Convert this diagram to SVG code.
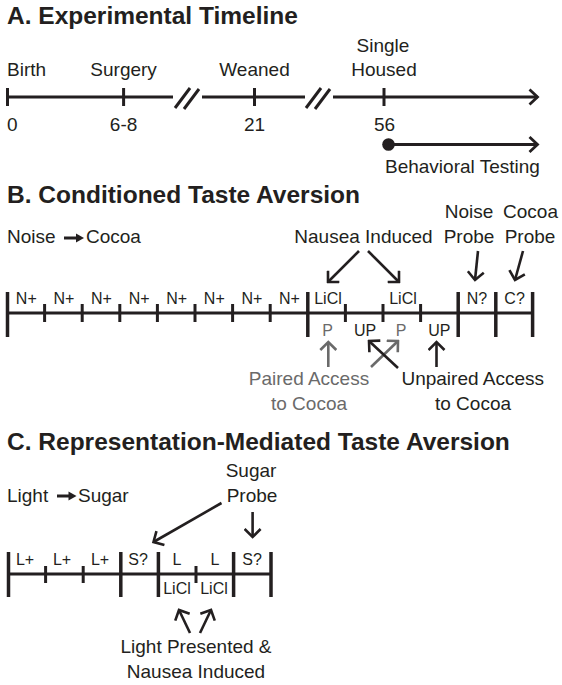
<svg xmlns="http://www.w3.org/2000/svg" width="562" height="685" viewBox="0 0 562 685">
<style>
text{font-family:"Liberation Sans",Arial,sans-serif;fill:#231f20}
.t{font-size:24.5px;font-weight:bold}
.l{font-size:19px}
.c{font-size:16px}
.m{text-anchor:middle}
.g{fill:#6a6a6a}
.ln{stroke:#231f20;stroke-width:3;fill:none}
.tk{stroke:#231f20;stroke-width:3;fill:none}
.bt{stroke:#231f20;stroke-width:3.5;fill:none}
.ar{stroke:#231f20;stroke-width:2.6;fill:none;marker-end:url(#chev)}
.ag{stroke:#6a6a6a;stroke-width:2.6;fill:none;marker-end:url(#chevg)}
.tl{stroke:#231f20;stroke-width:3;fill:none;marker-end:url(#chevt)}
</style>
<defs>
<marker id="chev" viewBox="0 0 12 18" refX="10" refY="9" markerWidth="12" markerHeight="18" markerUnits="userSpaceOnUse" orient="auto"><path d="M2,1 L10,9 L2,17" fill="none" stroke="#231f20" stroke-width="2.6"/></marker>
<marker id="chevg" viewBox="0 0 12 18" refX="10" refY="9" markerWidth="12" markerHeight="18" markerUnits="userSpaceOnUse" orient="auto"><path d="M2,1 L10,9 L2,17" fill="none" stroke="#6a6a6a" stroke-width="2.6"/></marker>
<marker id="chevt" viewBox="0 0 12 18" refX="10" refY="9" markerWidth="12" markerHeight="18" markerUnits="userSpaceOnUse" orient="auto"><path d="M2,1.5 L10,9 L2,16.5" fill="none" stroke="#231f20" stroke-width="2.8"/></marker>
</defs>
<rect width="562" height="685" fill="#fff"/>

<!-- Section A -->
<g id="section-a">
<text class="t" x="7" y="23.5">A. Experimental Timeline</text>
<g id="a-timeline">
<line class="ln" x1="7" y1="97" x2="173" y2="97"/>
<line class="ln" x1="202" y1="97" x2="305" y2="97"/>
<line class="tl" x1="333" y1="97" x2="537.5" y2="97"/>
<line class="ln" x1="175" y1="108" x2="190" y2="88"/>
<line class="ln" x1="184" y1="109" x2="199" y2="89"/>
<line class="ln" x1="306" y1="108" x2="321" y2="88"/>
<line class="ln" x1="315" y1="109" x2="330" y2="89"/>
</g>
<g id="a-birth"><line class="tk" x1="7.5" y1="88" x2="7.5" y2="106"/><text class="l" x="7" y="76">Birth</text><text class="l" x="7" y="131">0</text></g>
<g id="a-surgery"><line class="tk" x1="123.6" y1="88" x2="123.6" y2="106"/><text class="l m" x="123.6" y="76">Surgery</text><text class="l m" x="123.6" y="131">6-8</text></g>
<g id="a-weaned"><line class="tk" x1="254.5" y1="88" x2="254.5" y2="106"/><text class="l m" x="254.5" y="76">Weaned</text><text class="l m" x="254.5" y="131">21</text></g>
<g id="a-housed"><line class="tk" x1="384" y1="88" x2="384" y2="106"/><text class="l m" x="383" y="52">Single</text><text class="l m" x="384" y="76">Housed</text><text class="l m" x="384.5" y="131">56</text></g>
<g id="a-testing"><circle cx="388.5" cy="144.5" r="6.3" fill="#231f20"/><line class="tl" x1="388.5" y1="144.5" x2="537.5" y2="144.5"/><text class="l" x="385" y="173">Behavioral Testing</text></g>
</g>

<!-- Section B -->
<g id="section-b">
<text class="t" x="7" y="203">B. Conditioned Taste Aversion</text>
<g id="b-pairing"><text class="l" x="7" y="243">Noise</text><line x1="64" y1="238" x2="77" y2="238" stroke="#231f20" stroke-width="3"/><polygon points="76,233.5 84,238 76,242.5" fill="#231f20"/><text class="l" x="86" y="243">Cocoa</text></g>
<g id="b-timeline">
<line class="ln" x1="7" y1="313" x2="533.4" y2="313"/>
<line class="bt" x1="7.5" y1="292" x2="7.5" y2="337"/>
<line class="tk" x1="44.6" y1="304" x2="44.6" y2="322"/>
<line class="tk" x1="82.2" y1="304" x2="82.2" y2="322"/>
<line class="tk" x1="119.8" y1="304" x2="119.8" y2="322"/>
<line class="tk" x1="157.4" y1="304" x2="157.4" y2="322"/>
<line class="tk" x1="195" y1="304" x2="195" y2="322"/>
<line class="tk" x1="232.6" y1="304" x2="232.6" y2="322"/>
<line class="tk" x1="270.2" y1="304" x2="270.2" y2="322"/>
<line class="bt" x1="307.8" y1="292" x2="307.8" y2="337"/>
<line class="tk" x1="345.4" y1="304" x2="345.4" y2="322"/>
<line class="tk" x1="383" y1="304" x2="383" y2="322"/>
<line class="tk" x1="420.6" y1="304" x2="420.6" y2="322"/>
<line class="bt" x1="458.2" y1="292" x2="458.2" y2="337"/>
<line class="bt" x1="495.8" y1="292" x2="495.8" y2="337"/>
<line class="bt" x1="532.6" y1="292" x2="532.6" y2="337"/>
</g>
<g id="b-labels">
<text class="c m" x="26.3" y="304">N+</text>
<text class="c m" x="63.9" y="304">N+</text>
<text class="c m" x="101.5" y="304">N+</text>
<text class="c m" x="139.1" y="304">N+</text>
<text class="c m" x="176.7" y="304">N+</text>
<text class="c m" x="214.3" y="304">N+</text>
<text class="c m" x="251.9" y="304">N+</text>
<text class="c m" x="289.5" y="304">N+</text>
<text class="c m" x="328" y="304">LiCl</text>
<text class="c m" x="403" y="304">LiCl</text>
<text class="c m" x="477" y="304">N?</text>
<text class="c m" x="514.6" y="304">C?</text>
<text class="c m g" x="327.5" y="336">P</text>
<text class="c m" x="365" y="336">UP</text>
<text class="c m g" x="401" y="336">P</text>
<text class="c m" x="439.4" y="336">UP</text>
</g>
<g id="b-nausea"><text class="l m" x="363.5" y="243">Nausea Induced</text></g>
<g id="b-noise-probe"><text class="l m" x="469" y="218">Noise</text><text class="l m" x="469" y="243">Probe</text></g>
<g id="b-cocoa-probe"><text class="l m" x="530.5" y="218">Cocoa</text><text class="l m" x="530" y="243">Probe</text></g>
<g id="b-paired"><text class="l m g" x="309" y="385">Paired Access</text><text class="l m g" x="309" y="410">to Cocoa</text></g>
<g id="b-unpaired"><text class="l m" x="472.7" y="385">Unpaired Access</text><text class="l m" x="473" y="410">to Cocoa</text></g>
</g>

<!-- Section C -->
<g id="section-c">
<text class="t" x="7" y="450">C. Representation-Mediated Taste Aversion</text>
<g id="c-pairing"><text class="l" x="7" y="502">Light</text><line x1="57" y1="496" x2="70" y2="496" stroke="#231f20" stroke-width="3"/><polygon points="68.5,491.5 76.5,496 68.5,500.5" fill="#231f20"/><text class="l" x="78" y="502">Sugar</text></g>
<g id="c-timeline">
<line class="ln" x1="8" y1="574" x2="271.2" y2="574"/>
<line class="bt" x1="8.5" y1="552" x2="8.5" y2="597"/>
<line class="tk" x1="45.6" y1="566" x2="45.6" y2="583"/>
<line class="tk" x1="83.2" y1="566" x2="83.2" y2="583"/>
<line class="bt" x1="120.8" y1="552" x2="120.8" y2="597"/>
<line class="bt" x1="158.4" y1="552" x2="158.4" y2="597"/>
<line class="tk" x1="196" y1="566" x2="196" y2="583"/>
<line class="bt" x1="233.6" y1="552" x2="233.6" y2="597"/>
<line class="bt" x1="271" y1="552" x2="271" y2="597"/>
</g>
<g id="c-labels">
<text class="c m" x="25" y="565">L+</text>
<text class="c m" x="62" y="565">L+</text>
<text class="c m" x="100" y="565">L+</text>
<text class="c m" x="138" y="565">S?</text>
<text class="c m" x="177" y="565">L</text>
<text class="c m" x="215" y="565">L</text>
<text class="c m" x="252" y="565">S?</text>
<text class="c m" x="177" y="594">LiCl</text>
<text class="c m" x="214" y="594">LiCl</text>
</g>
<g id="c-sugar-probe"><text class="l m" x="251" y="477">Sugar</text><text class="l m" x="252" y="502">Probe</text></g>
<g id="c-light-nausea"><text class="l m" x="196" y="653">Light Presented &amp;</text><text class="l m" x="196" y="678">Nausea Induced</text></g>
</g>

<!-- Connectors -->
<g id="connectors">
<line class="ar" x1="359" y1="251" x2="328" y2="282"/>
<line class="ar" x1="368" y1="251" x2="399" y2="282"/>
<line class="ar" x1="478" y1="251" x2="475" y2="280"/>
<line class="ar" x1="523" y1="251" x2="515" y2="280"/>
<line class="ag" x1="328.3" y1="367" x2="328.3" y2="342"/>
<line class="ag" x1="371" y1="367" x2="398" y2="341"/>
<line class="ar" x1="398" y1="368" x2="369" y2="341"/>
<line class="ar" x1="436.5" y1="367" x2="436.5" y2="342"/>
<line class="ar" x1="221.5" y1="503" x2="153.5" y2="542"/>
<line class="ar" x1="252.6" y1="512" x2="252.6" y2="537"/>
<line class="ar" x1="190" y1="633" x2="179" y2="610"/>
<line class="ar" x1="200" y1="633" x2="211" y2="610"/>
</g>
</svg>
